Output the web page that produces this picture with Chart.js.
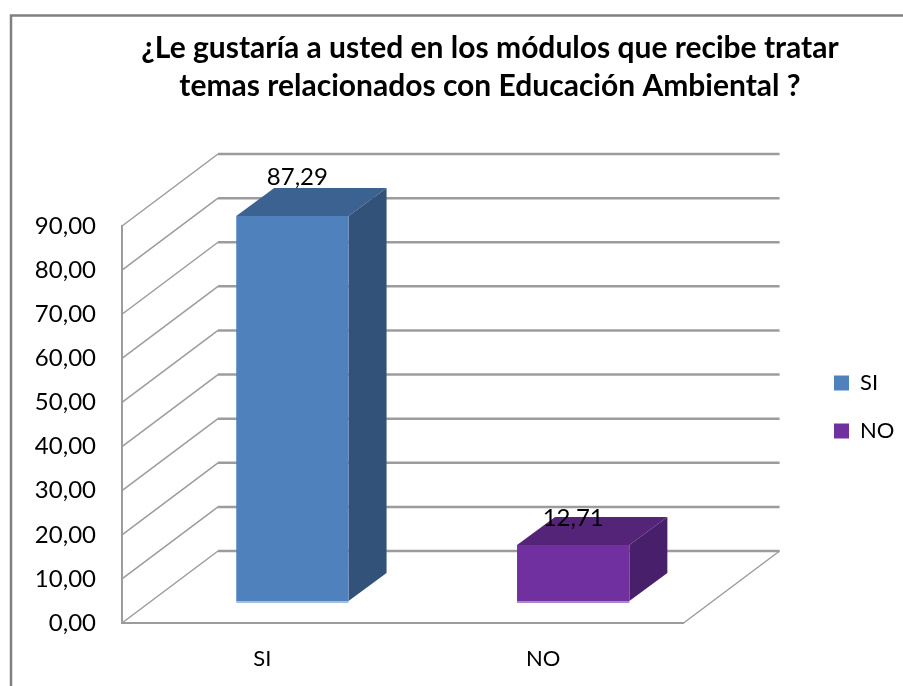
<!DOCTYPE html>
<html>
<head>
<meta charset="utf-8">
<title>Educación Ambiental</title>
<script src="https://cdn.jsdelivr.net/npm/chart.js@4/dist/chart.umd.min.js"></script>
<style>
    html, body { margin: 0; padding: 0; background: #fff; }
    canvas { display: block; }
</style>
</head>
<body>
<canvas id="ratings" width="903" height="686"></canvas>
<script>
const titleLines = ['¿Le gustaría a usted en los módulos que recibe tratar', 'temas relacionados con Educación Ambiental ?'];
const categories = ['SI', 'NO'];
const values = [87.29, 12.71];
const tickLabels = ['0,00', '10,00', '20,00', '30,00', '40,00', '50,00', '60,00', '70,00', '80,00', '90,00'];
const valueLabels = ['87,29', '12,71'];

// colours per bar: front, top, side, bottom edge
const frontColors = ['#4f81bd', '#7030a0'];
const topColors = ['#3c6291', '#532478'];
const sideColors = ['#325279', '#481f6b'];
const edgeColors = ['#a3bddd', '#ad86c9'];

const gridColor = '#9c9c9c';
const fontName = 'Lato, "Open Sans", sans-serif';

// how far the back wall sits from the front of the box
const wallX = 96;
const wallY = 72;
// bars stand in the middle of the floor, not on the front edge
const barShiftX = 30;
const barShiftY = -22;
const barDepthX = 38;
const barDepthY = 28;
// data labels do not sit at the same place on both bars in the picture
const labelNudge = [[5, -39], [0, -27]];

function line(ctx, x1, y1, x2, y2) {
    ctx.beginPath();
    ctx.moveTo(x1, y1);
    ctx.lineTo(x2, y2);
    ctx.stroke();
}

function face(ctx, color, points) {
    ctx.fillStyle = color;
    ctx.beginPath();
    points.forEach((p, i) => i ? ctx.lineTo(p[0], p[1]) : ctx.moveTo(p[0], p[1]));
    ctx.closePath();
    ctx.fill();
}

const box3d = {
    id: 'box3d',
    afterLayout(chart) {
        // title is centred on the original, wider picture; legend sits past the back wall
        chart.titleBlock.left = 0;
        chart.titleBlock.right = 980;
        chart.legend.left = 808;
        chart.legend.right = 903;
        chart.legend.top += 64;
        chart.legend.bottom += 64;
    },
    beforeDraw(chart) {
        const ctx = chart.ctx;
        ctx.save();
        ctx.strokeStyle = '#808080';
        ctx.lineWidth = 2.5;
        ctx.beginPath();
        ctx.moveTo(11, 700);
        ctx.lineTo(11, 15.5);
        ctx.lineTo(910, 15.5);
        ctx.stroke();
        ctx.restore();
    },
    beforeDatasetsDraw(chart) {
        const ctx = chart.ctx;
        const yScale = chart.scales.y;
        const area = chart.chartArea;
        ctx.save();
        ctx.strokeStyle = gridColor;
        tickLabels.forEach((label, i) => {
            const y = yScale.getPixelForValue(i * 10);
            ctx.lineWidth = 1.5;
            line(ctx, area.left, y, area.left + wallX, y - wallY);
            ctx.lineWidth = 2.5;
            line(ctx, area.left + wallX, y - wallY, area.right + wallX, y - wallY);
        });
        ctx.lineWidth = 1.5;
        line(ctx, area.right, area.bottom, area.right + wallX, area.bottom - wallY);
        ctx.restore();
    },
    beforeDatasetDraw(chart) {
        const ctx = chart.ctx;
        ctx.save();
        ctx.translate(barShiftX, barShiftY);
        chart.getDatasetMeta(0).data.forEach((bar, i) => {
            const left = bar.x - bar.width / 2;
            const right = bar.x + bar.width / 2;
            face(ctx, topColors[i], [[left, bar.y], [right, bar.y], [right + barDepthX, bar.y - barDepthY], [left + barDepthX, bar.y - barDepthY]]);
            face(ctx, sideColors[i], [[right, bar.y], [right + barDepthX, bar.y - barDepthY], [right + barDepthX, bar.base - barDepthY], [right, bar.base]]);
            ctx.fillStyle = edgeColors[i];
            ctx.fillRect(left, bar.base, bar.width, 2);
        });
    },
    afterDatasetDraw(chart) {
        chart.ctx.restore();
    },
    afterDatasetsDraw(chart) {
        const ctx = chart.ctx;
        ctx.save();
        ctx.fillStyle = '#000';
        ctx.font = '24px ' + fontName;
        ctx.textAlign = 'center';
        ctx.textBaseline = 'middle';
        chart.getDatasetMeta(0).data.forEach((bar, i) => {
            ctx.fillText(valueLabels[i], bar.x + barShiftX + labelNudge[i][0], bar.y + barShiftY + labelNudge[i][1]);
        });
        ctx.restore();
    }
};

document.addEventListener('DOMContentLoaded', () => {
    new Chart(document.getElementById('ratings').getContext('2d'), {
        type: 'bar',
        data: {
            labels: categories,
            datasets: [{
                data: values,
                backgroundColor: frontColors,
                borderWidth: 0,
                barPercentage: 0.4,
                categoryPercentage: 1,
                clip: false
            }]
        },
        options: {
            responsive: false,
            animation: false,
            layout: {
                padding: { right: 123 }
            },
            plugins: {
                title: {
                    display: true,
                    text: titleLines,
                    color: '#000',
                    font: { family: fontName, size: 30, weight: 'bold', lineHeight: 1.267 },
                    padding: { top: 29, bottom: 121 }
                },
                legend: {
                    position: 'right',
                    labels: {
                        color: '#000',
                        font: { family: fontName, size: 22 },
                        boxWidth: 15,
                        boxHeight: 15,
                        padding: 26,
                        generateLabels: () => categories.map((name, i) => ({
                            text: name,
                            fillStyle: frontColors[i],
                            strokeStyle: frontColors[i],
                            lineWidth: 0,
                            fontColor: '#000',
                            index: i
                        }))
                    }
                },
                tooltip: { enabled: false }
            },
            scales: {
                x: {
                    grid: { display: false },
                    border: { color: gridColor, width: 2 },
                    ticks: { color: '#000', padding: 15, font: { family: fontName, size: 22 } },
                    afterFit: (scale) => { scale.height = 63; }
                },
                y: {
                    min: 0,
                    max: 90,
                    grid: { display: false },
                    border: { color: gridColor, width: 2 },
                    ticks: {
                        stepSize: 10,
                        color: '#000',
                        padding: 18,
                        font: { family: fontName, size: 24 },
                        callback: (value) => tickLabels[value / 10]
                    },
                    afterFit: (scale) => { scale.width = 122; }
                }
            }
        },
        plugins: [box3d]
    });
});
</script>
</body>
</html>
